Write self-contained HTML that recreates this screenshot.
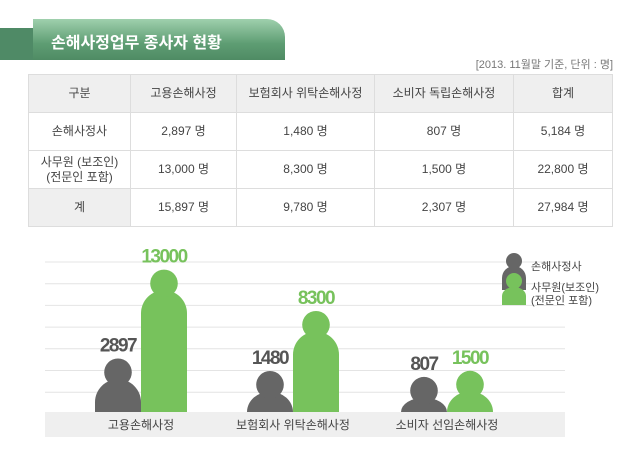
<!DOCTYPE html>
<html><head><meta charset="utf-8"><style>
body{margin:0;width:640px;height:460px;background:#fff;font-family:"Liberation Sans","Noto Sans CJK KR",sans-serif;position:relative;overflow:hidden}
.banner-l{position:absolute;left:0;top:28px;width:40px;height:32px;background:#4f8a66}
.banner{position:absolute;left:33px;top:19px;width:252px;height:41px;background:linear-gradient(180deg,#9fd0ad,#5e9d73 60%,#4f8b64);border-radius:0 18px 0 0}
.banner span{position:absolute;left:18px;top:10px;color:#fff;font-weight:bold;font-size:16px}
.date{position:absolute;right:27px;top:56px;font-size:11px;color:#777}
table{position:absolute;left:28px;top:74px;width:585px;border-collapse:collapse;font-size:12px;color:#444;text-align:center}
td{border:1px solid #ddd;height:37px;padding:0;line-height:15px}
tr:first-child td{background:#efefef}
td.g{background:#efefef}
</style></head><body>
<div class="banner-l"></div>
<div class="banner"><span>손해사정업무 종사자 현황</span></div>
<div class="date">[2013. 11월말 기준, 단위 : 명]</div>
<table>
<colgroup><col style="width:102px"><col style="width:106px"><col style="width:138px"><col style="width:139px"><col></colgroup>
<tr><td>구분</td><td>고용손해사정</td><td>보험회사 위탁손해사정</td><td>소비자 독립손해사정</td><td>합계</td></tr>
<tr><td>손해사정사</td><td>2,897 명</td><td>1,480 명</td><td>807 명</td><td>5,184 명</td></tr>
<tr><td>사무원 (보조인)<br>(전문인 포함)</td><td>13,000 명</td><td>8,300 명</td><td>1,500 명</td><td>22,800 명</td></tr>
<tr><td class="g">계</td><td>15,897 명</td><td>9,780 명</td><td>2,307 명</td><td>27,984 명</td></tr>
</table>
<svg id="chart" width="640" height="460" style="position:absolute;left:0;top:0" font-family="Liberation Sans, Noto Sans CJK KR, sans-serif"></svg>
<script>
const categories=["고용손해사정","보험회사 위탁손해사정","소비자 선임손해사정"];
const adjusters=[2897,1480,807];
const assistants=[13000,8300,1500];
const seriesNames=["손해사정사","사무원(보조인)"];
const svg=document.getElementById('chart');
const NS='http://www.w3.org/2000/svg';
function mk(t,a,p){const e=document.createElementNS(NS,t);for(const k in a)e.setAttribute(k,a[k]);(p||svg).appendChild(e);return e;}
const base=412, centers=[141,293,447], W=46;
function yh(v){return 28+v*0.0088;}
for(let i=0;i<7;i++){const g=mk('line',{x1:45,x2:565,y1:262+i*21.7,y2:262+i*21.7,stroke:'#e4e4e4','stroke-width':1});

}
const band=mk('rect',{x:45,y:base,width:520,height:25,fill:'#efefef'});


function person(x,h,w,color,name){
  const grp=mk('g',{});
  
  
  const top=base-h, r=w*0.3, bt=top+r*1.5;
  const ry=Math.min(w/2,base-bt);
  mk('path',{d:`M${x} ${base} L${x} ${bt+ry} A${w/2} ${ry} 0 0 1 ${x+w} ${bt+ry} L${x+w} ${base} Z`,fill:color},grp);
  mk('circle',{cx:x+w/2,cy:top+r,r:r,fill:color},grp);
  return top;
}
categories.forEach((c,i)=>{
  const cx=centers[i];
  const t1=person(cx-W,yh(adjusters[i]),W,'#666666','bar-adjusters-'+i);
  const t2=person(cx,yh(assistants[i]),W,'#77c25c','bar-assistants-'+i);
  const l1=mk('text',{x:cx-W/2,y:t1-7,'text-anchor':'middle','font-size':19,'font-weight':'bold',fill:'#555','letter-spacing':'-1.5'});
  l1.textContent=adjusters[i];
  
  
  const l2=mk('text',{x:cx+W/2,y:t2-7,'text-anchor':'middle','font-size':19,'font-weight':'bold',fill:'#77c25c','letter-spacing':'-1.5'});
  l2.textContent=assistants[i];
  
  
  const cl=mk('text',{x:cx,y:429,'text-anchor':'middle','font-size':12,fill:'#444'});
  cl.textContent=c;
  
  
});
const lg=mk('g',{});


mk('circle',{cx:514,cy:261,r:8,fill:'#666'},lg);
mk('path',{d:'M502 290 L502 278 A12 12 0 0 1 526 278 L526 290 Z',fill:'#666'},lg);
mk('circle',{cx:514,cy:281,r:8,fill:'#77c25c'},lg);
mk('path',{d:'M502 305 L502 296 A12 9 0 0 1 526 296 L526 305 Z',fill:'#77c25c'},lg);
const t1=mk('text',{x:531,y:270,'font-size':11,fill:'#444'},lg);t1.textContent='손해사정사';
const t2=mk('text',{x:531,y:291,'font-size':11,fill:'#444'},lg);t2.textContent='사무원(보조인)';
const t3=mk('text',{x:531,y:304,'font-size':11,fill:'#444'},lg);t3.textContent='(전문인 포함)';
</script>
</body></html>
